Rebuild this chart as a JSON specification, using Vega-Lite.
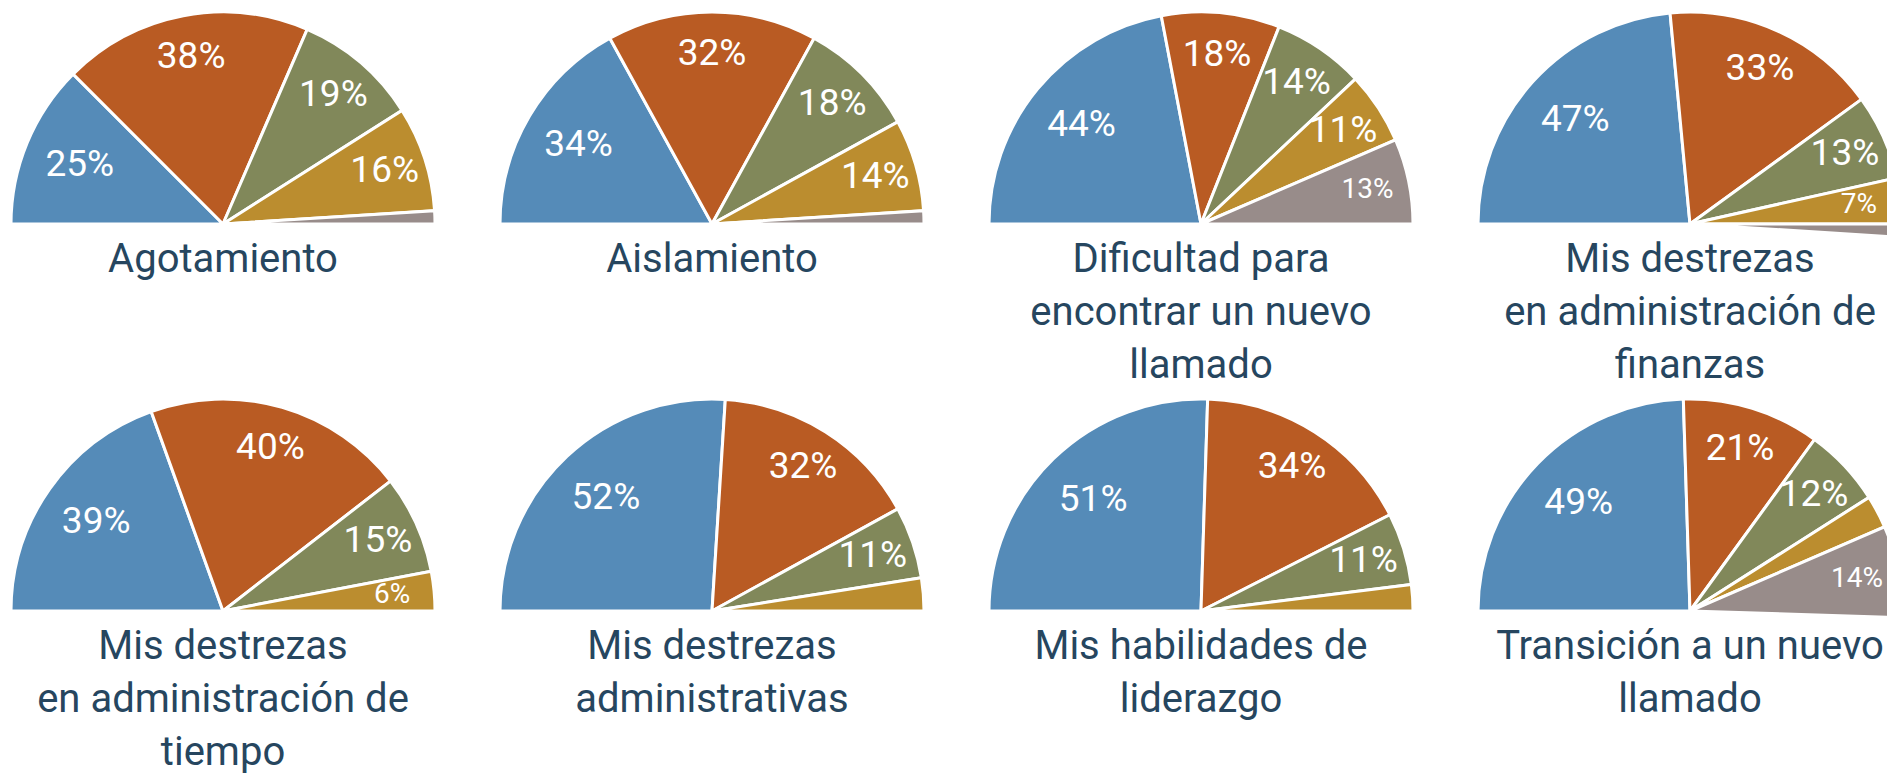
{
  "$schema": "https://vega.github.io/schema/vega-lite/v6.json",
  "padding": {"left": 5, "top": 6, "right": 0, "bottom": 0},
  "background": "white",
  "data": {
    "values": [
      {"topic": "Agotamiento", "category": "A", "value": 0.25},
      {"topic": "Agotamiento", "category": "B", "value": 0.38},
      {"topic": "Agotamiento", "category": "C", "value": 0.19},
      {"topic": "Agotamiento", "category": "D", "value": 0.16},
      {"topic": "Agotamiento", "category": "E", "value": 0.02},
      {"topic": "Aislamiento", "category": "A", "value": 0.34},
      {"topic": "Aislamiento", "category": "B", "value": 0.32},
      {"topic": "Aislamiento", "category": "C", "value": 0.18},
      {"topic": "Aislamiento", "category": "D", "value": 0.14},
      {"topic": "Aislamiento", "category": "E", "value": 0.02},
      {"topic": "Dificultad para\nencontrar un nuevo\nllamado", "category": "A", "value": 0.44},
      {"topic": "Dificultad para\nencontrar un nuevo\nllamado", "category": "B", "value": 0.18},
      {"topic": "Dificultad para\nencontrar un nuevo\nllamado", "category": "C", "value": 0.14},
      {"topic": "Dificultad para\nencontrar un nuevo\nllamado", "category": "D", "value": 0.11},
      {"topic": "Dificultad para\nencontrar un nuevo\nllamado", "category": "E", "value": 0.13},
      {"topic": "Mis destrezas\nen administración de\nfinanzas", "category": "A", "value": 0.47},
      {"topic": "Mis destrezas\nen administración de\nfinanzas", "category": "B", "value": 0.33},
      {"topic": "Mis destrezas\nen administración de\nfinanzas", "category": "C", "value": 0.13},
      {"topic": "Mis destrezas\nen administración de\nfinanzas", "category": "D", "value": 0.07},
      {"topic": "Mis destrezas\nen administración de\nfinanzas", "category": "E", "value": 0.02},
      {"topic": "Mis destrezas\nen administración de\ntiempo", "category": "A", "value": 0.39},
      {"topic": "Mis destrezas\nen administración de\ntiempo", "category": "B", "value": 0.40},
      {"topic": "Mis destrezas\nen administración de\ntiempo", "category": "C", "value": 0.15},
      {"topic": "Mis destrezas\nen administración de\ntiempo", "category": "D", "value": 0.06},
      {"topic": "Mis destrezas\nadministrativas", "category": "A", "value": 0.52},
      {"topic": "Mis destrezas\nadministrativas", "category": "B", "value": 0.32},
      {"topic": "Mis destrezas\nadministrativas", "category": "C", "value": 0.11},
      {"topic": "Mis destrezas\nadministrativas", "category": "D", "value": 0.05},
      {"topic": "Mis habilidades de\nliderazgo", "category": "A", "value": 0.51},
      {"topic": "Mis habilidades de\nliderazgo", "category": "B", "value": 0.34},
      {"topic": "Mis habilidades de\nliderazgo", "category": "C", "value": 0.11},
      {"topic": "Mis habilidades de\nliderazgo", "category": "D", "value": 0.04},
      {"topic": "Transición a un nuevo\nllamado", "category": "A", "value": 0.49},
      {"topic": "Transición a un nuevo\nllamado", "category": "B", "value": 0.21},
      {"topic": "Transición a un nuevo\nllamado", "category": "C", "value": 0.12},
      {"topic": "Transición a un nuevo\nllamado", "category": "D", "value": 0.05},
      {"topic": "Transición a un nuevo\nllamado", "category": "E", "value": 0.14}
    ]
  },
  "facet": {
    "field": "topic",
    "type": "nominal",
    "title": null,
    "sort": [
      "Agotamiento",
      "Aislamiento",
      "Dificultad para\nencontrar un nuevo\nllamado",
      "Mis destrezas\nen administración de\nfinanzas",
      "Mis destrezas\nen administración de\ntiempo",
      "Mis destrezas\nadministrativas",
      "Mis habilidades de\nliderazgo",
      "Transición a un nuevo\nllamado"
    ],
    "header": {"title": null, "labels": false, "labelFontSize": 0, "labelPadding": 0, "labelExpr": "''"}
  },
  "columns": 4,
  "spacing": {"column": 69, "row": 27},
  "bounds": "flush",
  "spec": {
    "width": 420,
    "height": 360,
    "layer": [
      {
        "mark": {"type": "arc", "outerRadius": 212, "stroke": "white", "strokeWidth": 3},
        "encoding": {
          "theta": {"field": "value", "type": "quantitative", "stack": true,
                    "scale": {"domain": [0, 1], "range": [-1.5707963, 1.5707963]}},
          "color": {"field": "category", "type": "nominal", "legend": null,
                    "scale": {"domain": ["A", "B", "C", "D", "E"],
                              "range": ["#558BB8", "#B95B23", "#81885A", "#BB8D2F", "#988C8A"]}},
          "order": {"field": "category", "sort": "ascending"}
        }
      },
      {
        "mark": {"type": "text", "radius": 170, "color": "white", "font": "Roboto", "align": "center", "baseline": "middle"},
        "encoding": {
          "theta": {"field": "value", "type": "quantitative", "stack": true,
                    "scale": {"domain": [0, 1], "range": [-1.5707963, 1.5707963]}},
          "order": {"field": "category", "sort": "ascending"},
          "detail": {"field": "category", "type": "nominal"},
          "text": {"field": "value", "type": "quantitative", "format": ".0%"},
          "size": {"condition": {"test": "datum.category === 'E' || datum.value < 0.1", "value": 28}, "value": 37},
          "opacity": {"condition": {"test": "datum.value < 0.06 || datum.category === 'A'", "value": 0}, "value": 1}
        }
      },
      {
        "transform": [{"filter": "datum.category === 'A'"}],
        "mark": {"type": "text", "radius": 155, "color": "white", "font": "Roboto", "align": "center", "baseline": "middle", "fontSize": 37},
        "encoding": {
          "theta": {"field": "value", "type": "quantitative", "stack": true,
                    "scale": {"domain": [0, 1], "range": [-1.5707963, 1.5707963]}},
          "text": {"field": "value", "type": "quantitative", "format": ".0%"}
        }
      },
      {
        "transform": [{"filter": "datum.category === 'A'"}],
        "mark": {"type": "text", "baseline": "alphabetic", "align": "center", "dy": 48, "fontSize": 40, "lineHeight": 53, "lineBreak": "\n", "color": "#26465F", "font": "Roboto"},
        "encoding": {
          "text": {"field": "topic", "type": "nominal"}
        }
      }
    ]
  },
  "config": {
    "view": {"stroke": null},
    "header": {"title": null, "labels": false, "labelFontSize": 0, "labelPadding": 0}
  }
}
